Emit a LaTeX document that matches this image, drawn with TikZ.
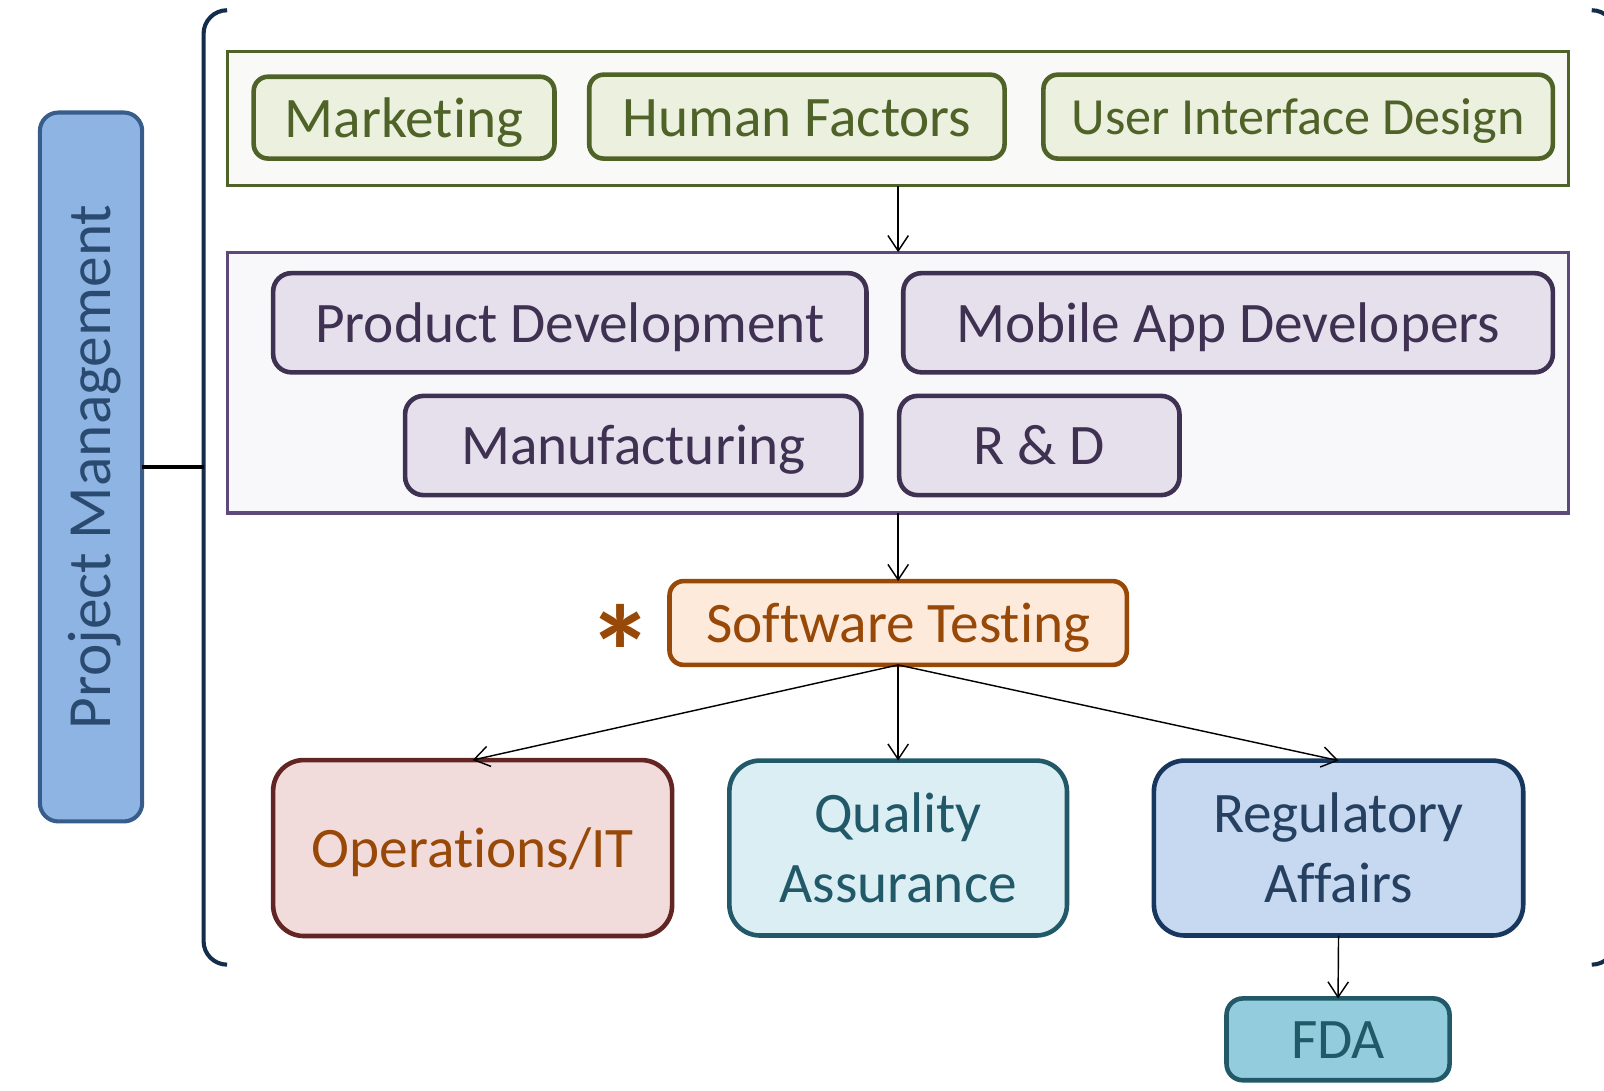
\documentclass[tikz,border=0pt]{standalone}
\usepackage{fontspec}
\setmainfont{Carlito}[Ligatures=NoCommon]
\usetikzlibrary{arrows.meta}
\definecolor{gline}{HTML}{4F6228}
\definecolor{gfill}{HTML}{EBF1DE}
\definecolor{gouter}{HTML}{F9FAF7}
\definecolor{pline}{HTML}{3F3151}
\definecolor{pfill}{HTML}{E5E0EC}
\definecolor{pouterline}{HTML}{5F497A}
\definecolor{pouter}{HTML}{F8F8FA}
\definecolor{oline}{HTML}{984807}
\definecolor{ofill}{HTML}{FDEADA}
\definecolor{rline}{HTML}{632523}
\definecolor{rfill}{HTML}{F2DCDB}
\definecolor{qline}{HTML}{215968}
\definecolor{qfill}{HTML}{DBEEF4}
\definecolor{regline}{HTML}{17375E}
\definecolor{regfill}{HTML}{C6D9F1}
\definecolor{regtext}{HTML}{254061}
\definecolor{fdafill}{HTML}{93CDDD}
\definecolor{pmfill}{HTML}{8EB4E3}
\definecolor{pmline}{HTML}{385D8A}
\definecolor{pmtext}{HTML}{2A4A70}
\definecolor{bracket}{HTML}{142D4A}
\newcommand{\fsbig}{\fontsize{56}{68}\selectfont}
\begin{document}
\begin{tikzpicture}[x=1pt,y=-1pt,
  box/.style={inner sep=0pt, outer sep=0pt, font=\fsbig, text height=38pt, text depth=0pt},
  boxtwo/.style={inner sep=0pt, outer sep=0pt, font=\fsbig, align=center},
  gbox/.style={box, draw=gline, fill=gfill, text=gline, line width=4.5pt, rounded corners=14pt},
  pbox/.style={box, draw=pline, fill=pfill, text=pline, line width=4.5pt, rounded corners=18pt},
  arw/.style={line width=1.4pt, -{Straight Barb[length=15pt,width=20pt,line width=1.4pt]}}
]
\useasboundingbox (0,0) rectangle (1568,1066);
% bracket
\draw[bracket, line width=4pt] (222,10) arc[start angle=270, end angle=180, radius=23] -- (199,920) arc[start angle=180, end angle=90, radius=23];
\draw[bracket, line width=4pt] (1556,10) arc[start angle=270, end angle=360, radius=23] -- (1579,920) arc[start angle=0, end angle=90, radius=23];
% project management
\node[inner sep=0pt, outer sep=0pt, draw=pmline, fill=pmfill, line width=4pt, rounded corners=18pt, minimum width=100pt, minimum height=693pt] (pm) at (89,456.5) {};
\node[inner sep=0pt, rotate=90, text=pmtext, font=\fontsize{60}{68}\selectfont, text height=39pt, text depth=0pt] (pmt) at (pm.center) {Project Management};
\coordinate (bk) at (199,456.5);
\draw[line width=4pt] (pm.east) -- (bk);
% green group
\node[inner sep=0pt, outer sep=0pt, draw=gline, fill=gouter, line width=3pt, minimum width=1311pt, minimum height=131pt] (gg) at (878,116) {};
\node[gbox, minimum width=294pt, minimum height=80pt] (mk) at (395,115) {Marketing};
\node[gbox, minimum width=406pt, minimum height=82pt] (hf) at (779,114) {Human Factors};
\node[gbox, minimum width=498pt, minimum height=82pt, font=\fontsize{51}{60}\selectfont, text height=35pt] (ui) at (1269,114) {User Interface Design};
% purple group
\node[inner sep=0pt, outer sep=0pt, draw=pouterline, fill=pouter, line width=3pt, minimum width=1311pt, minimum height=255pt] (pg) at (878,374) {};
\node[pbox, minimum width=580pt, minimum height=97pt] (pd) at (557,315.5) {Product Development};
\node[pbox, minimum width=635pt, minimum height=97pt] (ma) at (1200.5,315.5) {Mobile App Developers};
\node[pbox, minimum width=446pt, minimum height=97pt] (mf) at (619,435.5) {Manufacturing};
\node[pbox, minimum width=274pt, minimum height=97pt] (rd) at (1016,435.5) {R \& D};
% software testing
\node[box, draw=oline, fill=ofill, text=oline, line width=4.5pt, rounded corners=14pt, minimum width=447pt, minimum height=82pt] (st) at (878,609) {Software Testing};
\node[inner sep=0pt, outer sep=0pt, text=oline, font=\fontsize{130}{130}\selectfont\bfseries, anchor=base] (ast) at (607,684) {*};
% bottom row
\node[box, draw=rline, fill=rfill, text=oline, line width=4.5pt, rounded corners=30pt, minimum width=390pt, minimum height=172pt] (op) at (462,829) {Operations/IT};
\node[boxtwo, draw=qline, fill=qfill, text=qline, line width=4.5pt, rounded corners=30pt, minimum width=330pt, minimum height=171pt] (qa) at (878,829) {Quality\\Assurance};
\node[boxtwo, draw=regline, fill=regfill, text=regtext, line width=4.5pt, rounded corners=30pt, minimum width=361pt, minimum height=171pt] (ra) at (1308.5,829) {Regulatory\\Affairs};
\node[box, draw=qline, fill=fdafill, text=qline, line width=4.5pt, rounded corners=16pt, minimum width=218pt, minimum height=80pt] (fda) at (1308,1016) {FDA};
% connectors
\draw[arw] (gg.south) -- (pg.north);
\draw[arw] (pg.south) -- (st.north);
\draw[arw] (st.south) -- (op.north);
\draw[arw] (st.south) -- (qa.north);
\draw[arw] (st.south) -- (ra.north);
\draw[arw] (ra.south) -- (fda.north);
\end{tikzpicture}
\end{document}
